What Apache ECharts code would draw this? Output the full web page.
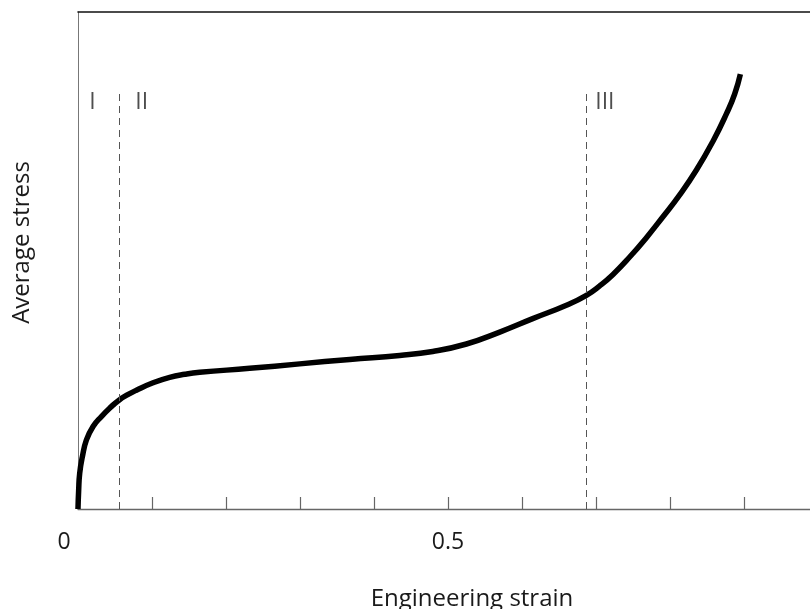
<!DOCTYPE html>
<html>
<head>
<meta charset="utf-8">
<title>Average stress vs engineering strain</title>
<script src="https://cdn.jsdelivr.net/npm/echarts@6/dist/echarts.min.js"></script>
<style>
  html, body { margin: 0; padding: 0; background: #fff; }
  #chart { width: 810px; height: 609px; }
</style>
</head>
<body>
<div id="chart"></div>
<script>
// Stress–strain curve of a cellular material (arbitrary stress units)
const strain = [0, 0.0009, 0.0023, 0.0059, 0.0114, 0.0203, 0.0316, 0.0451, 0.0554,
  0.0672, 0.0789, 0.1014, 0.1239, 0.1442, 0.1645, 0.2320, 0.2996, 0.3672, 0.4347,
  0.4793, 0.5249, 0.5699, 0.6145, 0.6600, 0.6870, 0.7050, 0.7230, 0.7455, 0.7681,
  0.7905, 0.8131, 0.8357, 0.8581, 0.8762, 0.8874, 0.8951];
const stress = [0, 3.8, 7.2, 10.5, 13.9, 16.6, 18.6, 20.6, 21.9,
  23.0, 23.9, 25.4, 26.5, 27.1, 27.5, 28.3, 29.2, 30.1, 30.9,
  31.7, 33.2, 35.6, 38.3, 41.0, 43.0, 44.9, 47.2, 50.7, 54.6,
  58.8, 63.2, 68.2, 74.0, 79.5, 83.5, 87.5];

// Region boundaries (strain) and region names
const boundaries = [0.0554, 0.6865];
const boundaryTop = 84.3;
const regionNames = ['I', 'II', 'III'];
const regionX = [0.0195, 0.086, 0.712];
const regionY = 81.7;

// Tick labels shown on the strain axis
const tickLabels = { 0: '0', 0.5: '0.5' };

const chart = echarts.init(document.getElementById('chart'), null, { renderer: 'canvas' });
const FONT = '"Open Sans", "Noto Sans", sans-serif';

chart.setOption({
  animation: false,
  backgroundColor: '#ffffff',
  grid: { left: 78, right: -8, top: 12, bottom: 100, containLabel: false, outerBoundsMode: 'none' },
  xAxis: [{
    type: 'value',
    min: 0, max: 1, interval: 0.1,
    position: 'bottom',
    name: 'Engineering strain',
    nameLocation: 'middle',
    nameGap: 78,
    nameTextStyle: { fontFamily: FONT, fontSize: 24, color: '#1a1a1a', padding: [0, 0, 0, 48] },
    axisLine: { show: true, onZero: false, lineStyle: { color: '#666', width: 1.3 } },
    axisTick: { show: true, inside: true, length: 12, lineStyle: { color: '#666', width: 1.2 } },
    axisLabel: {
      margin: 22,
      fontFamily: FONT, fontSize: 23, color: '#1a1a1a',
      formatter: v => {
        const key = Math.round(v * 10) / 10;
        if (key === 0) return '{z|0}';
        return tickLabels[key] || '';
      },
      rich: { z: { fontFamily: FONT, fontSize: 23, color: '#1a1a1a', padding: [0, 28, 0, 0] } }
    },
    splitLine: { show: false }
  }, {
    type: 'value',
    min: 0, max: 1,
    position: 'top',
    axisLine: { show: true, onZero: false, lineStyle: { color: '#111', width: 1.6 } },
    axisTick: { show: false },
    axisLabel: { show: false },
    splitLine: { show: false }
  }],
  yAxis: {
    type: 'value',
    min: 0, max: 100,
    name: 'Average stress',
    nameLocation: 'middle',
    nameGap: 44,
    nameRotate: 90,
    nameTextStyle: { fontFamily: FONT, fontSize: 24, color: '#1a1a1a', padding: [0, 0, 0, 36] },
    axisLine: { show: true, onZero: false, lineStyle: { color: '#777', width: 1 } },
    axisTick: { show: false },
    axisLabel: { show: false },
    splitLine: { show: false }
  },
  series: [{
    type: 'line',
    data: strain.map((s, i) => [s, stress[i]]),
    smooth: 0.5,
    showSymbol: false,
    symbol: 'none',
    lineStyle: { color: '#000', width: 5.5, cap: 'butt', join: 'round' },
    markLine: {
      silent: true,
      symbol: ['none', 'none'],
      label: { show: false },
      lineStyle: { color: '#555', width: 1, type: [7, 5] },
      data: boundaries.map(b => [{ coord: [b, 0] }, { coord: [b, boundaryTop] }])
    }
  }, {
    type: 'scatter',
    data: regionX.map((x, i) => ({ value: [x, regionY], name: regionNames[i] })),
    symbolSize: 0,
    silent: true,
    label: {
      show: true,
      position: 'inside',
      formatter: p => p.name,
      fontFamily: FONT, fontSize: 23, color: '#222'
    }
  }]
});
</script>
</body>
</html>
